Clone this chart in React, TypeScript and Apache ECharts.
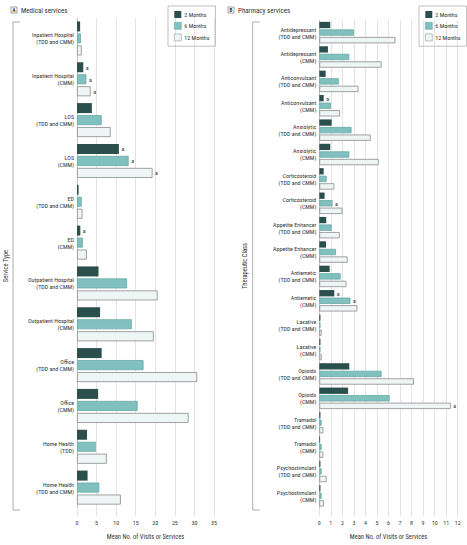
import React, { useEffect, useRef } from "react";
import * as echarts from "echarts";

const seriesNames = ["2 Months", "6 Months", "12 Months"];

const medCategories = [
  "Inpatient Hospital\n(TDD and CMM)",
  "Inpatient Hospital\n(CMM)",
  "LOS\n(TDD and CMM)",
  "LOS\n(CMM)",
  "ED\n(TDD and CMM)",
  "ED\n(CMM)",
  "Outpatient Hospital\n(TDD and CMM)",
  "Outpatient Hospital\n(CMM)",
  "Office\n(TDD and CMM)",
  "Office\n(CMM)",
  "Home Health\n(TDD)",
  "Home Health\n(TDD and CMM)",
];
const med2 = [0.8, 1.6, 3.8, 10.7, 0.4, 0.85, 5.5, 5.9, 6.3, 5.4, 2.55, 2.7];
const med6 = [1.0, 2.4, 6.3, 13.2, 1.2, 1.5, 12.8, 14.0, 17.0, 15.5, 4.8, 5.7];
const med12 = [1.2, 3.5, 8.6, 19.3, 1.4, 2.5, 20.6, 19.6, 30.7, 28.5, 7.6, 11.2];
const medFlags2 = [1, 3, 5];
const medFlags6 = [1, 3];
const medFlags12 = [1, 3];

const pharmCategories = [
  "Antidepressant\n(TDD and CMM)",
  "Antidepressant\n(CMM)",
  "Anticonvulsant\n(TDD and CMM)",
  "Anticonvulsant\n(CMM)",
  "Anxiolytic\n(TDD and CMM)",
  "Anxiolytic\n(CMM)",
  "Corticosteroid\n(TDD and CMM)",
  "Corticosteroid\n(CMM)",
  "Appetite Enhancer\n(TDD and CMM)",
  "Appetite Enhancer\n(CMM)",
  "Antiemetic\n(TDD and CMM)",
  "Antiemetic\n(CMM)",
  "Laxative\n(TDD and CMM)",
  "Laxative\n(CMM)",
  "Opioids\n(TDD and CMM)",
  "Opioids\n(CMM)",
  "Tramadol\n(TDD and CMM)",
  "Tramadol\n(CMM)",
  "Psychostimulant\n(TDD and CMM)",
  "Psychostimulant\n(CMM)",
];
const pharm2 = [0.95, 0.75, 0.55, 0.38, 1.07, 0.95, 0.38, 0.46, 0.6, 0.58, 0.9, 1.3, 0.1, 0.1, 2.6, 2.5, 0.1, 0.07, 0.1, 0.1];
const pharm6 = [3.0, 2.6, 1.7, 1.0, 2.8, 2.6, 0.64, 1.15, 1.07, 1.45, 1.85, 2.7, 0.1, 0.1, 5.4, 6.1, 0.2, 0.2, 0.2, 0.2];
const pharm12 = [6.6, 5.4, 3.4, 1.8, 4.45, 5.15, 1.3, 2.0, 1.77, 2.45, 2.35, 3.3, 0.2, 0.2, 8.2, 11.4, 0.35, 0.35, 0.64, 0.4];
const pharmFlags2 = [3, 11];
const pharmFlags6 = [7, 11];
const pharmFlags12 = [15];

const FONT = "'Liberation Sans Narrow', 'Roboto Condensed', Roboto, sans-serif";
const COLORS = ["#2b4f4d", "#80c1bf", "#eef5f5"];
const BORDERS = ["#2b4f4d", "#6aa9a7", "#8c8c8c"];
const TEXT = "#333";
const GRIDLINE = "#dcdcdc";

function withFlags(values: number[], flags: number[]) {
  return values.map((v, i) =>
    flags.includes(i) ? { value: v, label: { show: true } } : v
  );
}

function makeSeries(values: number[], flags: number[], idx: number, axisIndex: number, barWidth: number) {
  return {
    type: "bar",
    name: seriesNames[idx],
    xAxisIndex: axisIndex,
    yAxisIndex: axisIndex,
    barWidth,
    barGap: "20%",
    itemStyle: { color: COLORS[idx], borderColor: BORDERS[idx], borderWidth: idx === 0 ? 0 : 0.8 },
    label: {
      show: false,
      position: "right",
      formatter: "a",
      distance: 2.5,
      fontSize: 6,
      color: TEXT,
      fontFamily: FONT,
    },
    data: withFlags(values, flags),
  };
}

function bracket(x: number) {
  return [
    { type: "line", shape: { x1: x, y1: 22, x2: x, y2: 510 }, style: { stroke: "#999", lineWidth: 0.8 }, silent: true },
    { type: "line", shape: { x1: x, y1: 22, x2: x + 7, y2: 22 }, style: { stroke: "#999", lineWidth: 0.8 }, silent: true },
    { type: "line", shape: { x1: x, y1: 510, x2: x + 7, y2: 510 }, style: { stroke: "#999", lineWidth: 0.8 }, silent: true },
  ];
}

function panelTitle(x: number, letter: string, text: string) {
  return [
    { type: "rect", shape: { x, y: 7, width: 6, height: 6 }, style: { fill: "#fff", stroke: "#666", lineWidth: 0.6 } },
    { type: "text", x: x + 3, y: 10.2, style: { text: letter, fontSize: 5, fontWeight: "bold", fill: TEXT, align: "center", verticalAlign: "middle", fontFamily: FONT } },
    { type: "text", x: x + 10, y: 10.5, style: { text, fontSize: 7, fill: TEXT, verticalAlign: "middle", fontFamily: FONT } },
  ];
}

export default function App() {
  const ref = useRef<HTMLDivElement>(null);
  useEffect(() => {
    if (!ref.current) return;
    const chart = echarts.init(ref.current, null, { renderer: "svg" });
    const xAxisCommon = {
      type: "value",
      splitLine: { show: true, lineStyle: { color: GRIDLINE, width: 0.8 } },
      axisLine: { show: false },
      axisTick: { show: true, length: 8, inside: false, lineStyle: { color: GRIDLINE, width: 0.8 } },
      axisLabel: { fontSize: 6, color: TEXT, fontFamily: FONT, margin: 11 },
      nameLocation: "middle",
      nameGap: 25,
      nameTextStyle: { fontSize: 6.5, color: TEXT, fontFamily: FONT },
      name: "Mean No. of Visits or Services",
    };
    const yAxisCommon = {
      type: "category",
      inverse: true,
      axisLine: { show: true, lineStyle: { color: "#bbb", width: 0.8 } },
      axisTick: { show: false },
      axisLabel: { fontSize: 6, color: TEXT, fontFamily: FONT, margin: 3, lineHeight: 7, align: "right" },
    };
    const legendData = [
      { name: "2 Months", itemStyle: { color: COLORS[0], borderWidth: 0 } },
      { name: "6 Months", itemStyle: { color: COLORS[1], borderColor: BORDERS[1], borderWidth: 0.6 } },
      { name: "12 Months", itemStyle: { color: COLORS[2], borderColor: "#999", borderWidth: 0.6 } },
    ];
    const legendCommon = {
      orient: "vertical",
      top: 6,
      data: legendData,
      icon: "rect",
      itemWidth: 7,
      itemHeight: 7,
      itemGap: 4,
      padding: [5, 6, 5, 6],
      borderColor: "#999",
      borderWidth: 0.6,
      textStyle: { fontSize: 6, color: TEXT, fontFamily: FONT, padding: [0, 0, 0, -2] },
      selectedMode: false,
    };
    chart.setOption({
      animation: false,
      textStyle: { fontFamily: FONT },
      grid: [
        { left: 77, top: 18, width: 137, height: 492 },
        { left: 319.3, top: 20.4, width: 138.4, height: 492.4 },
      ],
      xAxis: [
        { ...xAxisCommon, gridIndex: 0, min: 0, max: 35, interval: 5 },
        { ...xAxisCommon, gridIndex: 1, min: 0, max: 12, interval: 1 },
      ],
      yAxis: [
        { ...yAxisCommon, gridIndex: 0, data: medCategories },
        { ...yAxisCommon, gridIndex: 1, data: pharmCategories },
      ],
      legend: [
        { ...legendCommon, left: 168 },
        { ...legendCommon, left: 419 },
      ],
      series: [
        makeSeries(med2, medFlags2, 0, 0, 10),
        makeSeries(med6, medFlags6, 1, 0, 10),
        makeSeries(med12, medFlags12, 2, 0, 10),
        makeSeries(pharm2, pharmFlags2, 0, 1, 6.3),
        makeSeries(pharm6, pharmFlags6, 1, 1, 6.3),
        makeSeries(pharm12, pharmFlags12, 2, 1, 6.3),
      ],
      graphic: [
        ...panelTitle(11, "A", "Medical services"),
        ...panelTitle(228, "B", "Pharmacy services"),
        ...bracket(13),
        ...bracket(252.7),
        { type: "text", x: 6, y: 266, rotation: Math.PI / 2, style: { text: "Service Type", fontSize: 6.5, fill: TEXT, align: "center", verticalAlign: "middle", fontFamily: FONT } },
        { type: "text", x: 245, y: 266, rotation: Math.PI / 2, style: { text: "Therapeutic Class", fontSize: 6.5, fill: TEXT, align: "center", verticalAlign: "middle", fontFamily: FONT } },
      ],
    });
    return () => chart.dispose();
  }, []);
  return (
    <div
      ref={ref}
      style={{ position: "absolute", left: 0, top: 0, width: 467, height: 545, background: "#fff" }}
    />
  );
}
